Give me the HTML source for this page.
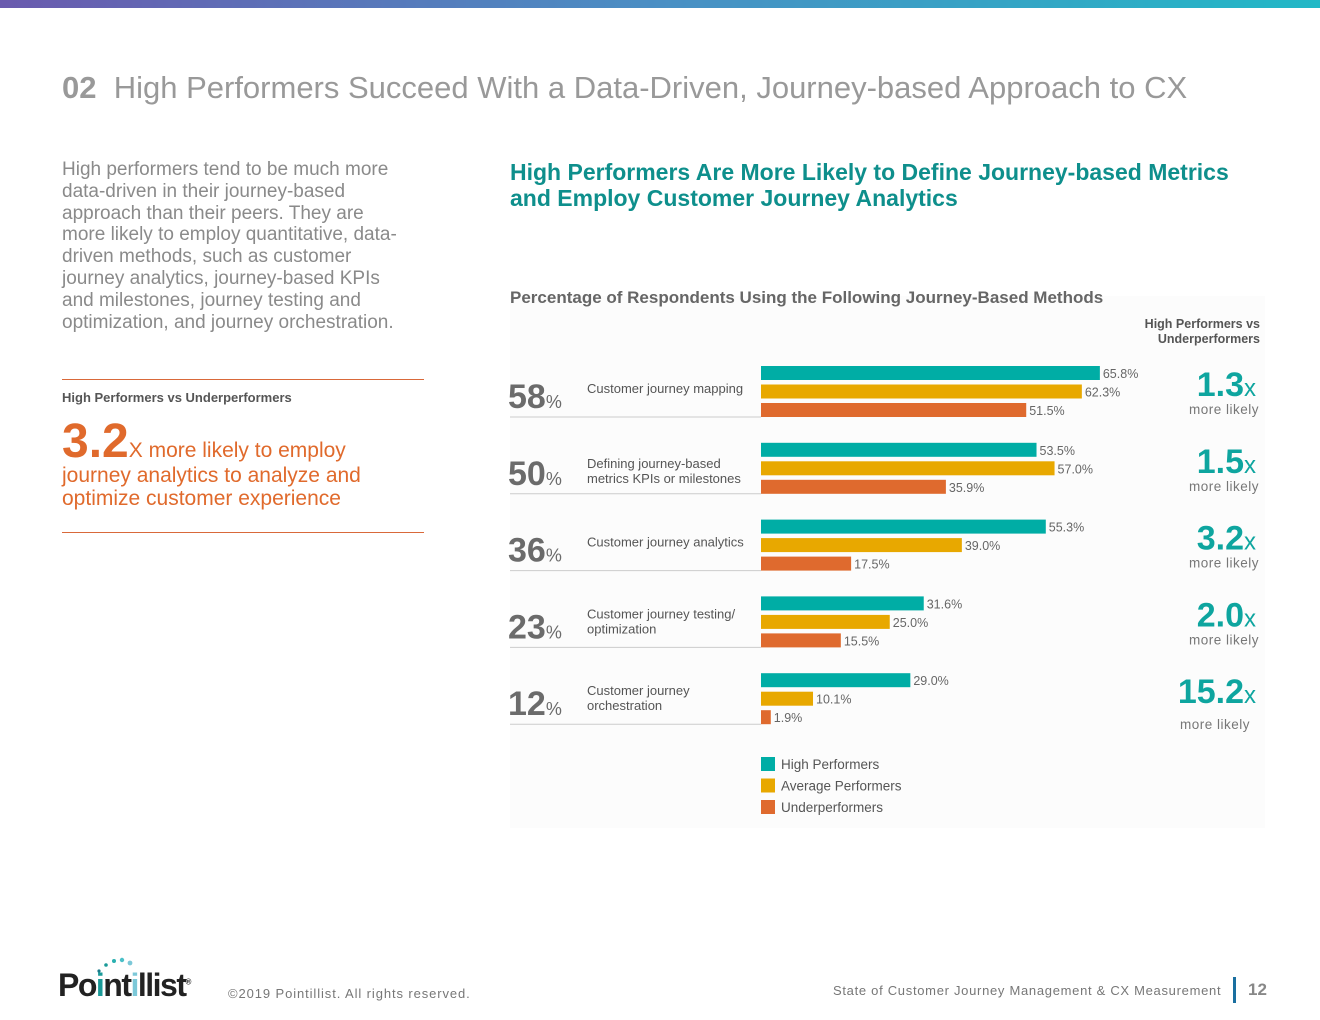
<!DOCTYPE html>
<html><head><meta charset="utf-8"><style>
body{margin:0;width:1320px;height:1020px;background:#fff;position:relative;overflow:hidden;font-family:"Liberation Sans",sans-serif}
.a{position:absolute}
</style></head><body>
<div class="a" style="left:0;top:0;width:1320px;height:8px;background:linear-gradient(90deg,#6a5aae,#4a8fc4,#22b8c6)"></div>
<div class="a" style="left:510px;top:296px;width:755px;height:532px;background:#fcfcfc"></div>
<div class="a" style="left:62px;top:70px;font-size:31px;color:#999;white-space:nowrap"><b style="color:#999">02</b>&nbsp; High Performers Succeed With a Data-Driven, Journey-based Approach to CX</div>
<div class="a" style="left:62px;top:159px;width:350px;font-size:19px;line-height:21.8px;color:#8a8a8a">High performers tend to be much more data-driven in their journey-based approach than their peers. They are more likely to employ quantitative, data-driven methods, such as customer journey analytics, journey-based KPIs and milestones, journey testing and optimization, and journey orchestration.</div>
<div class="a" style="left:62px;top:379px;width:362px;border-top:1px solid #d9693a"></div>
<div class="a" style="left:62px;top:390px;font-size:13px;font-weight:bold;color:#555">High Performers vs Underperformers</div>
<div class="a" style="left:62px;top:420px;width:330px;font-size:21px;line-height:23px;color:#e06a2c"><b style="font-size:48px;line-height:44px">3.2</b>X more likely to employ journey analytics to analyze and optimize customer experience</div>
<div class="a" style="left:62px;top:532px;width:362px;border-top:1px solid #d9693a"></div>
<div class="a" style="left:510px;top:159px;width:760px;font-size:23px;line-height:26px;font-weight:bold;color:#0e8f8c">High Performers Are More Likely to Define Journey-based Metrics and Employ Customer Journey Analytics</div>
<div class="a" style="left:510px;top:288px;font-size:17px;font-weight:bold;color:#666">Percentage of Respondents Using the Following Journey-Based Methods</div>
<div class="a" style="left:1100px;top:317px;width:160px;text-align:right;font-size:12.5px;line-height:15px;font-weight:bold;color:#555">High Performers vs<br>Underperformers</div>
<svg class="a" id="chart" style="left:0;top:0" width="1320" height="1020"></svg>
<div class="a" style="left:58px;top:967px;font-size:32px;font-weight:bold;color:#222;letter-spacing:-1.5px">Po<span style="color:#1a9a98">i</span>nt<span style="color:#7cc8d8">i</span>llist<sup style="font-size:8px">®</sup></div>
<svg class="a" style="left:95px;top:955px" width="50" height="20"><circle cx="4" cy="16" r="1.6" fill="#1a7a8a"/><circle cx="11" cy="10" r="1.8" fill="#1a9a98"/><circle cx="19" cy="6" r="2" fill="#2ab0b0"/><circle cx="27" cy="5" r="2.2" fill="#4bc0c8"/><circle cx="35" cy="8" r="2.4" fill="#7cc8d8"/></svg>
<div class="a" style="left:228px;top:986px;font-size:13px;color:#777;letter-spacing:0.9px">©2019 Pointillist. All rights reserved.</div>
<div class="a" style="left:833px;top:983px;font-size:13px;color:#777;letter-spacing:0.7px">State of Customer Journey Management &amp; CX Measurement</div>
<div class="a" style="left:1233px;top:977px;width:3px;height:26px;background:#1a6fa0"></div>
<div class="a" style="left:1248px;top:980px;font-size:17px;font-weight:bold;color:#888">12</div>
<script>
const categories=["Customer journey mapping","Defining journey-based|metrics KPIs or milestones","Customer journey analytics","Customer journey testing/|optimization","Customer journey|orchestration"];
const overall=[58,50,36,23,12];
const highPerf=[65.8,53.5,55.3,31.6,29.0];
const avgPerf=[62.3,57.0,39.0,25.0,10.1];
const underPerf=[51.5,35.9,17.5,15.5,1.9];
const ratios=["1.3","1.5","3.2","2.0","15.2"];
const colors=["#00ada5","#e8a800","#df6a2e"];
const seriesNames=["High Performers","Average Performers","Underperformers"];
const svg=document.getElementById('chart');
const NS="http://www.w3.org/2000/svg";
const x0=761,pxPer=5.15;
const xs=v=>x0+v*pxPer;
const gy=i=>366+i*76.8;
function mk(tag,attrs,txt){const e=document.createElementNS(NS,tag);for(const k in attrs)e.setAttribute(k,attrs[k]);if(txt!==undefined)e.textContent=txt;svg.appendChild(e);return e;}
const series=[highPerf,avgPerf,underPerf];
categories.forEach((c,i)=>{
 const y=gy(i);
 const sep=mk('line',{x1:510,x2:761,y1:y+51,y2:y+51,stroke:'#ccc','stroke-width':1});
 
 
 const big=mk('text',{x:508,y:y+42,'font-size':34,'font-weight':'bold',fill:'#6b6b6b'});
 
 
 big.innerHTML=overall[i]+'<tspan font-size="18" font-weight="normal">%</tspan>';
 const lines=c.split('|');
 const ly=lines.length>1?y+12+(i==1?3:0):y+27;
 lines.forEach((l,k)=>{const t=mk('text',{x:587,y:ly+k*15+(lines.length>1?10:0),'font-size':13,fill:'#555'},l);
  
  });
 series.forEach((s,j)=>{
  const by=y+j*18.5;
  const r=mk('rect',{x:x0,y:by,width:s[i]*pxPer,height:14,fill:colors[j]});
  
  
  const t=mk('text',{x:xs(s[i])+3,y:by+12,'font-size':12.5,fill:'#666'},s[i].toFixed(1)+'%');
  
  
 });
 const rt=mk('text',{x:1256,y:y+30,'text-anchor':'end','font-size':34,'font-weight':'bold',fill:'#0ea59f'});
 
 
 rt.innerHTML=ratios[i]+'<tspan font-size="24" font-weight="normal">x</tspan>';
 const ml=mk('text',{x:i==4?1215:1224,y:y+48+(i==4?8:0),'text-anchor':'middle','font-size':13.5,fill:'#777','letter-spacing':0.5},'more likely');
 
 
});
seriesNames.forEach((n,j)=>{
 const y=757+j*21.5;
 const r=mk('rect',{x:761,y:y,width:14,height:14,fill:colors[j]});
 
 
 const t=mk('text',{x:781,y:y+12,'font-size':13.5,fill:'#555'},n);
 
 
});
</script>
</body></html>
